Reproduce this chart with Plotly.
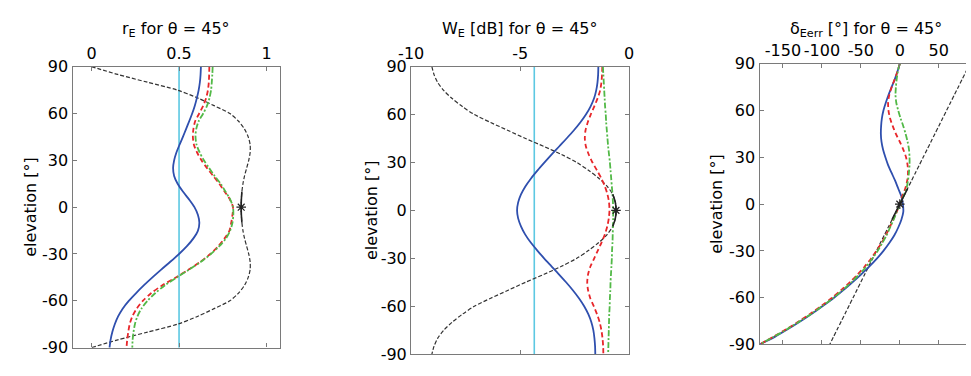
import plotly.graph_objects as go

# Elevation grid (degrees), 90 down to -90 in 5 degree steps
elevation = [90, 85, 80, 75, 70, 65, 60, 55, 50, 45, 40, 35, 30, 25, 20, 15, 10, 5, 0,
             -5, -10, -15, -20, -25, -30, -35, -40, -45, -50, -55, -60, -65, -70, -75, -80, -85, -90]

# ---- r_E (energy vector length) ----
rE_blue = [0.625, 0.623, 0.619, 0.612, 0.602, 0.590, 0.575, 0.558, 0.540, 0.522, 0.503, 0.485, 0.472,
           0.466, 0.472, 0.492, 0.522, 0.557, 0.588, 0.608, 0.616, 0.608, 0.582, 0.545, 0.500, 0.450,
           0.398, 0.348, 0.300, 0.255, 0.213, 0.178, 0.152, 0.133, 0.119, 0.109, 0.103]
rE_red = [0.673, 0.672, 0.670, 0.665, 0.655, 0.638, 0.615, 0.592, 0.582, 0.579, 0.585, 0.603, 0.628,
          0.660, 0.695, 0.730, 0.760, 0.790, 0.808, 0.805, 0.798, 0.788, 0.760, 0.724, 0.678, 0.622,
          0.555, 0.482, 0.405, 0.342, 0.293, 0.258, 0.233, 0.218, 0.210, 0.204, 0.200]
rE_green = [0.692, 0.690, 0.687, 0.683, 0.674, 0.660, 0.638, 0.612, 0.598, 0.594, 0.600, 0.618, 0.642,
            0.672, 0.703, 0.738, 0.765, 0.792, 0.808, 0.810, 0.805, 0.792, 0.768, 0.730, 0.682, 0.625,
            0.557, 0.487, 0.420, 0.365, 0.320, 0.285, 0.262, 0.248, 0.240, 0.235, 0.233]
rE_black = [0.000, 0.150, 0.320, 0.490, 0.605, 0.700, 0.790, 0.840, 0.874, 0.895, 0.906, 0.906, 0.898,
            0.886, 0.874, 0.865, 0.859, 0.856, 0.855, 0.856, 0.859, 0.865, 0.874, 0.886, 0.898, 0.906,
            0.906, 0.895, 0.874, 0.840, 0.790, 0.700, 0.605, 0.490, 0.320, 0.150, 0.000]
rE_ref = 0.5

# ---- W_E (energy in dB) ----
WE_blue = [-1.41, -1.42, -1.45, -1.51, -1.61, -1.77, -1.98, -2.24, -2.54, -2.87, -3.21, -3.55, -3.88,
           -4.20, -4.50, -4.76, -4.96, -5.09, -5.14, -5.09, -4.96, -4.77, -4.52, -4.22, -3.90, -3.56,
           -3.22, -2.89, -2.58, -2.30, -2.06, -1.87, -1.73, -1.64, -1.59, -1.56, -1.55]
WE_red = [-1.23, -1.24, -1.27, -1.33, -1.45, -1.60, -1.76, -1.90, -2.00, -2.03, -1.98, -1.85, -1.68,
          -1.47, -1.27, -1.11, -0.99, -0.92, -0.90, -0.93, -1.00, -1.11, -1.26, -1.43, -1.60, -1.77,
          -1.88, -1.92, -1.88, -1.78, -1.62, -1.47, -1.35, -1.27, -1.22, -1.19, -1.18]
WE_green = [-1.20, -1.18, -1.16, -1.14, -1.12, -1.10, -1.07, -1.05, -1.02, -0.99, -0.96, -0.92, -0.88,
            -0.85, -0.82, -0.79, -0.76, -0.74, -0.73, -0.73, -0.74, -0.75, -0.76, -0.78, -0.79, -0.81,
            -0.83, -0.85, -0.86, -0.88, -0.89, -0.91, -0.92, -0.93, -0.94, -0.95, -0.96]
WE_black = [-9.05, -8.95, -8.78, -8.50, -8.12, -7.65, -7.10, -6.35, -5.55, -4.75, -3.90, -3.10, -2.40,
            -1.85, -1.38, -1.00, -0.75, -0.63, -0.60, -0.63, -0.75, -1.00, -1.38, -1.85, -2.40, -3.10,
            -3.90, -4.75, -5.55, -6.35, -7.10, -7.65, -8.12, -8.50, -8.78, -8.95, -9.05]
WE_ref = -4.35

# ---- delta_Eerr (localisation error in degrees) ----
dE_blue = [0.0, -3.0, -6.5, -10.5, -14.5, -18.0, -21.0, -23.0, -24.0, -24.3, -23.5, -21.5, -18.5,
           -15.0, -10.5, -6.0, -2.0, 2.0, 4.0, 4.5, 2.0, -2.0, -7.0, -13.5, -21.0, -29.5,
           -39.0, -49.5, -60.5, -72.0, -84.5, -98.0, -112.0, -127.0, -143.0, -160.0, -180.0]
dE_red = [0.0, -3.0, -6.5, -10.5, -13.5, -15.0, -14.5, -12.5, -9.0, -5.0, 0.0, 4.5, 8.0,
          10.0, 10.5, 9.5, 7.0, 3.0, 0.0, -4.0, -8.5, -13.0, -18.0, -23.5, -30.0, -37.0,
          -45.0, -54.0, -64.0, -75.0, -87.0, -100.0, -114.0, -129.0, -145.0, -162.0, -180.0]
dE_green = [0.0, -2.5, -4.0, -5.0, -5.5, -4.5, -2.0, 1.0, 4.5, 7.5, 10.0, 11.8, 12.5,
            12.5, 11.7, 10.5, 8.5, 4.5, 0.0, -4.0, -8.0, -12.5, -17.0, -22.5, -28.5, -35.5,
            -43.0, -52.0, -62.0, -73.0, -85.0, -98.5, -112.5, -128.0, -144.0, -161.5, -180.0]
dE_black = [90, 85, 80, 75, 70, 65, 60, 55, 50, 45, 40, 35, 30, 25, 20, 15, 10, 5, 0,
            -5, -10, -15, -20, -25, -30, -35, -40, -45, -50, -55, -60, -65, -70, -75, -80, -85, -90]

# Reference direction marker (elevation 0) on each panel
marker_elev = 0

# Axis ticks
elev_ticks = [90, 60, 30, 0, -30, -60, -90]
elev_ticktext = ["90", "60", "30", "0", "-30", "-60", "-90"]
rE_ticks = [0, 0.5, 1]
rE_ticktext = ["0", "0.5", "1"]
WE_ticks = [-10, -5, 0]
WE_ticktext = ["-10", "-5", "0"]
dE_ticks = [-150, -100, -50, 0, 50]
dE_ticktext = ["-150", "-100", "-50", "0", "50"]

titles = ["r<sub>E</sub> for θ = 45°",
          "W<sub>E</sub> [dB] for θ = 45°",
          "δ<sub>Eerr</sub> [°] for θ = 45°"]
ylabel = "elevation [°]"

W, H = 971, 376
FONT = "DejaVu Sans"
FRAME = "#7a7a7a"

BLUE = "#2f4fae"
RED = "#e8262a"
GREEN = "#52b947"
CYAN = "#5cc8e2"
BLACK = "#333333"


def px_x(p):
    return p / W


def px_y(p):
    return 1 - p / H


# plot-area rectangles (left, right, top, bottom) in pixels
boxes = [(60.7, 272.3, 60.7, 356.7),
         (405.7, 627.7, 60.7, 363.5),
         (760.7, 971.0, 57.7, 353.3)]
xranges = [[-0.108, 1.078], [-10, 0], [-180, 85]]
xticks = [(rE_ticks, rE_ticktext), (WE_ticks, WE_ticktext), (dE_ticks, dE_ticktext)]
panels = [
    (rE_blue, rE_red, rE_green, rE_black, rE_ref),
    (WE_blue, WE_red, WE_green, WE_black, WE_ref),
    (dE_blue, dE_red, dE_green, dE_black, None),
]

fig = go.Figure()

for i, (blue, red, green, black, ref) in enumerate(panels):
    xa = "x" if i == 0 else f"x{i + 1}"
    ya = "y" if i == 0 else f"y{i + 1}"

    if ref is not None:
        fig.add_trace(go.Scatter(x=[ref, ref], y=[90, -90], mode="lines",
                                 line=dict(color=CYAN, width=1.6),
                                 xaxis=xa, yaxis=ya, showlegend=False))
    fig.add_trace(go.Scatter(x=black, y=elevation, mode="lines",
                             line=dict(color=BLACK, width=1.2, dash="4px,2px", shape="spline", smoothing=0.8),
                             xaxis=xa, yaxis=ya, showlegend=False, cliponaxis=True))
    fig.add_trace(go.Scatter(x=blue, y=elevation, mode="lines",
                             line=dict(color=BLUE, width=1.8, shape="spline", smoothing=0.8),
                             xaxis=xa, yaxis=ya, showlegend=False))
    fig.add_trace(go.Scatter(x=red, y=elevation, mode="lines",
                             line=dict(color=RED, width=1.8, dash="5px,3px", shape="spline", smoothing=0.8),
                             xaxis=xa, yaxis=ya, showlegend=False))
    fig.add_trace(go.Scatter(x=green, y=elevation, mode="lines",
                             line=dict(color=GREEN, width=1.8, dash="6px,2px,2px,2px", shape="spline", smoothing=0.8),
                             xaxis=xa, yaxis=ya, showlegend=False))

    # solid short stretch of the black curve around the reference direction, with marker
    seg_e = [e for e in elevation if abs(e) <= 10]
    seg_v = [black[k] for k, e in enumerate(elevation) if abs(e) <= 10]
    fig.add_trace(go.Scatter(x=seg_v, y=seg_e, mode="lines",
                             line=dict(color="#222222", width=1.6, shape="spline"),
                             xaxis=xa, yaxis=ya, showlegend=False))
    mk = black[elevation.index(marker_elev)]
    fig.add_trace(go.Scatter(x=[mk], y=[marker_elev], mode="markers",
                             marker=dict(symbol="asterisk-open", size=8, color="#222222",
                                         line=dict(color="#222222", width=1.2)),
                             xaxis=xa, yaxis=ya, showlegend=False))

    l, r, t, b = boxes[i]
    tv, tt = xticks[i]
    xkey = "xaxis" if i == 0 else f"xaxis{i + 1}"
    ykey = "yaxis" if i == 0 else f"yaxis{i + 1}"
    fig.layout[xkey] = dict(
        domain=[px_x(l), min(px_x(r), 1.0)], anchor=ya, side="top", range=xranges[i],
        tickvals=tv, ticktext=tt, ticks="inside", ticklen=4, tickwidth=1.2, tickcolor=FRAME,
        tickangle=0,
        showline=True, linecolor=FRAME, linewidth=1.4, mirror="ticks",
        showgrid=False, zeroline=False,
        tickfont=dict(family=FONT, size=16, color="black"),
    )
    fig.layout[ykey] = dict(
        domain=[px_y(b), px_y(t)], anchor=xa, range=[-90, 90],
        tickvals=elev_ticks, ticktext=elev_ticktext, ticks="inside", ticklen=4, tickwidth=1.2,
        tickcolor=FRAME, showline=True, linecolor=FRAME, linewidth=1.4,
        mirror=("ticks" if i < 2 else False),
        showgrid=False, zeroline=False,
        tickfont=dict(family=FONT, size=16, color="black"),
    )

annotations = []
title_cx = [166.5, 516.7, 869.0]
label_cx = [17.0, 365.5, 716.0]
for i in range(3):
    l, r, t, b = boxes[i]
    annotations.append(dict(text=titles[i], x=px_x(title_cx[i]), y=px_y(22), xref="paper", yref="paper",
                            xanchor="center", yanchor="middle", showarrow=False,
                            font=dict(family=FONT, size=16, color="black")))
    annotations.append(dict(text=ylabel, x=px_x(label_cx[i]), y=px_y((t + b) / 2), xref="paper",
                            yref="paper", xanchor="center", yanchor="middle", textangle=-90,
                            showarrow=False, font=dict(family=FONT, size=16, color="black")))

fig.update_layout(
    width=W, height=H, margin=dict(l=0, r=0, t=0, b=0),
    paper_bgcolor="white", plot_bgcolor="white",
    annotations=annotations, showlegend=False,
)

fig.write_html("out.html", config={"displayModeBar": False})
